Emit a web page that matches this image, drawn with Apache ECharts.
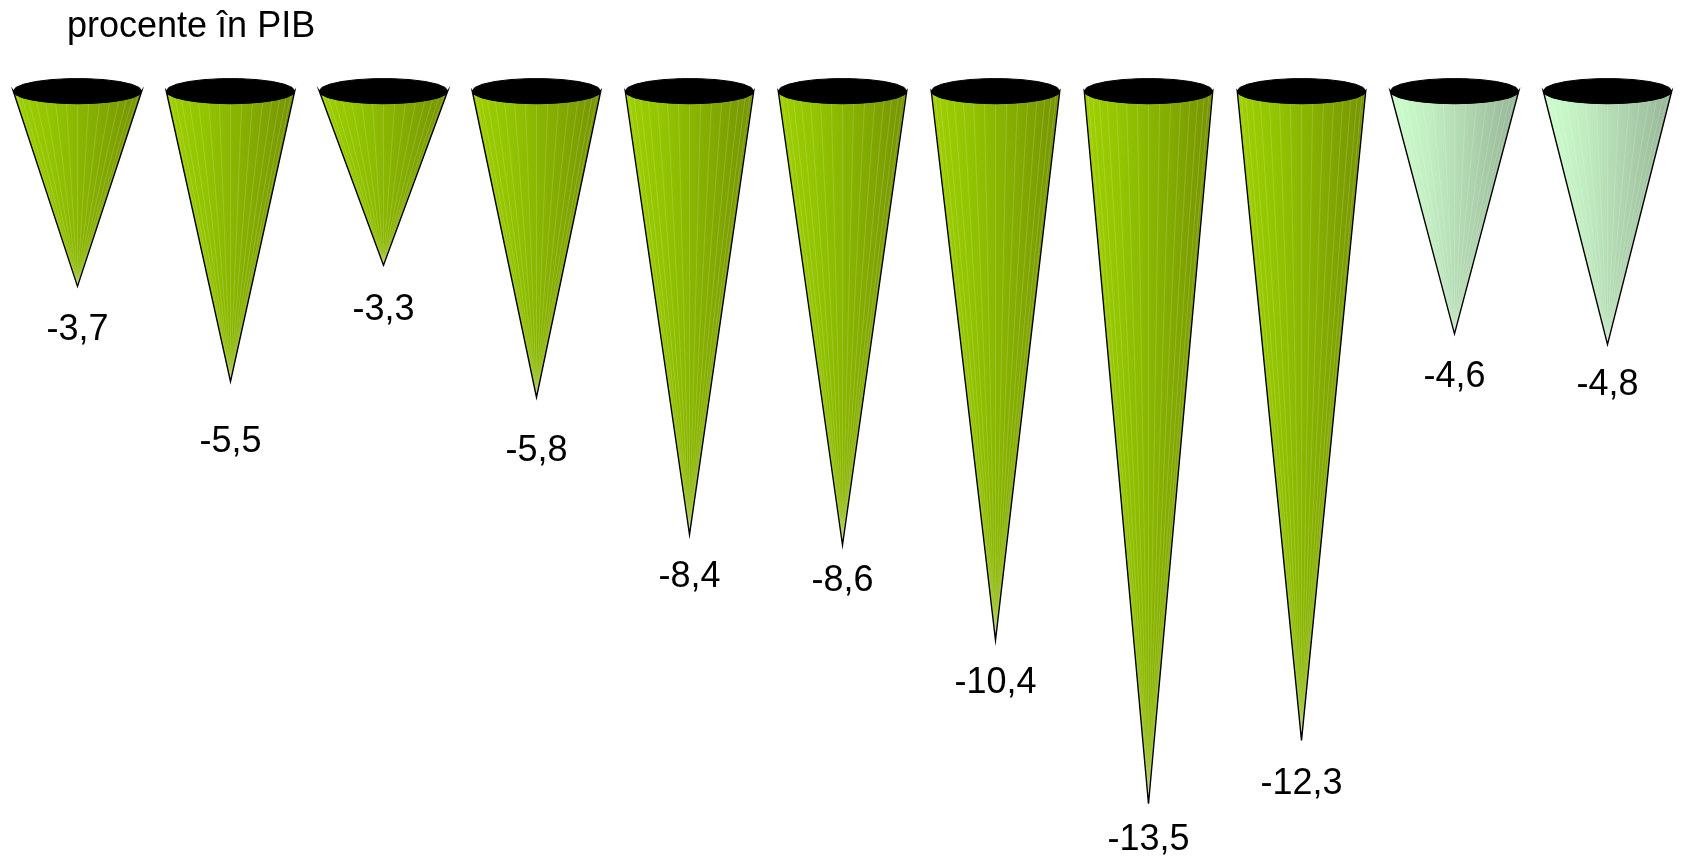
<!DOCTYPE html>
<html>
<head>
<meta charset="utf-8">
<script src="https://cdn.jsdelivr.net/npm/echarts@6/dist/echarts.min.js"></script>
<style>
  html, body { margin: 0; padding: 0; background: #ffffff; }
  #chart { width: 1684px; height: 857px; }
</style>
</head>
<body>
<div id="chart"></div>
<script>
// Current account balance, percent of GDP
const categories = ['2000', '2001', '2002', '2003', '2004', '2005', '2006', '2007', '2008', '2009', '2010'];
const actualValues = [-3.7, -5.5, -3.3, -5.8, -8.4, -8.6, -10.4, -13.5, -12.3, null, null];
const projectedValues = [null, null, null, null, null, null, null, null, null, -4.6, -4.8];
const titleText = 'procente în PIB';

// distance (px) from each cone tip down to its value label
const labelGap = [44, 61, 45, 54, 43, 36, 43, 36, 44, 43, 41];

function toPairs(arr) {
  const out = [];
  arr.forEach(function (v, i) { if (v !== null) out.push([i, v]); });
  return out;
}

function fmt(v) {
  return v.toFixed(1).replace('.', ',');
}

function coneRenderer(colors) {
  return function (params, api) {
    const idx = api.value(0);
    const v = api.value(1);
    const top = api.coord([idx, 0]);
    const tip = api.coord([idx, v]);
    const bandW = api.size([1, 0])[0];
    const rx = bandW * 0.42;
    const ry = 12.5;
    const cx = top[0];
    const cy = top[1];

    // cone surface: side edges down to the tip, closed by the front half of the rim
    const body = [[cx - rx, cy], [tip[0], tip[1]], [cx + rx, cy]];
    const n = 12;
    for (let k = 1; k < n; k++) {
      const a = Math.PI * k / n;
      body.push([cx + rx * Math.cos(a), cy + ry * Math.sin(a)]);
    }

    // faint facet lines running from the rim to the tip
    const facets = [];
    const f = 18;
    for (let k = 1; k < f; k++) {
      const a = Math.PI * k / f;
      facets.push({
        type: 'line',
        shape: {
          x1: cx + rx * Math.cos(a), y1: cy + ry * Math.sin(a),
          x2: tip[0], y2: tip[1]
        },
        style: { stroke: 'rgba(255,255,255,0.16)', lineWidth: 1 }
      });
    }

    // opening of the cone
    const rim = [];
    const m = 22;
    for (let k = 0; k < m; k++) {
      const a = 2 * Math.PI * k / m;
      rim.push([cx + rx * Math.cos(a), cy + ry * Math.sin(a)]);
    }

    return {
      type: 'group',
      children: [
        {
          type: 'polygon',
          shape: { points: body },
          style: {
            fill: new echarts.graphic.LinearGradient(0, 0, 1, 0, [
              { offset: 0, color: colors[0] },
              { offset: 0.3, color: colors[1] },
              { offset: 0.6, color: colors[2] },
              { offset: 1, color: colors[3] }
            ])
          }
        }
      ].concat(facets).concat([
        {
          type: 'polygon',
          shape: { points: body },
          style: {
            fill: 'none',
            stroke: '#000000',
            lineWidth: 1.4,
            lineJoin: 'miter'
          }
        },
        {
          type: 'polygon',
          shape: { points: rim },
          style: { fill: '#000000', stroke: '#000000', lineWidth: 1 }
        },
        {
          type: 'text',
          x: cx,
          y: tip[1] + labelGap[idx],
          style: {
            text: fmt(v),
            fill: '#000000',
            font: '36px "Liberation Sans", Arial, sans-serif',
            align: 'center',
            verticalAlign: 'middle'
          }
        }
      ])
    };
  };
}

const chart = echarts.init(document.getElementById('chart'));
chart.setOption({
  backgroundColor: '#ffffff',
  animation: false,
  title: {
    text: titleText,
    left: 62,
    top: 4,
    textStyle: {
      fontFamily: '"Liberation Sans", Arial, sans-serif',
      fontSize: 36,
      fontWeight: 'normal',
      color: '#000000'
    }
  },
  grid: { left: 1, top: 91, width: 1687, height: 739.2 },
  xAxis: {
    type: 'category',
    data: categories,
    show: false
  },
  yAxis: {
    type: 'value',
    min: -14,
    max: 0,
    show: false
  },
  series: [
    {
      type: 'custom',
      clip: false,
      data: toPairs(actualValues),
      encode: { x: 0, y: 1 },
      renderItem: coneRenderer(['#9fd000', '#92c400', '#86b000', '#769400'])
    },
    {
      type: 'custom',
      clip: false,
      data: toPairs(projectedValues),
      encode: { x: 0, y: 1 },
      renderItem: coneRenderer(['#ccffcc', '#c2eec2', '#b0d6b0', '#96b696'])
    }
  ]
});
</script>
</body>
</html>
